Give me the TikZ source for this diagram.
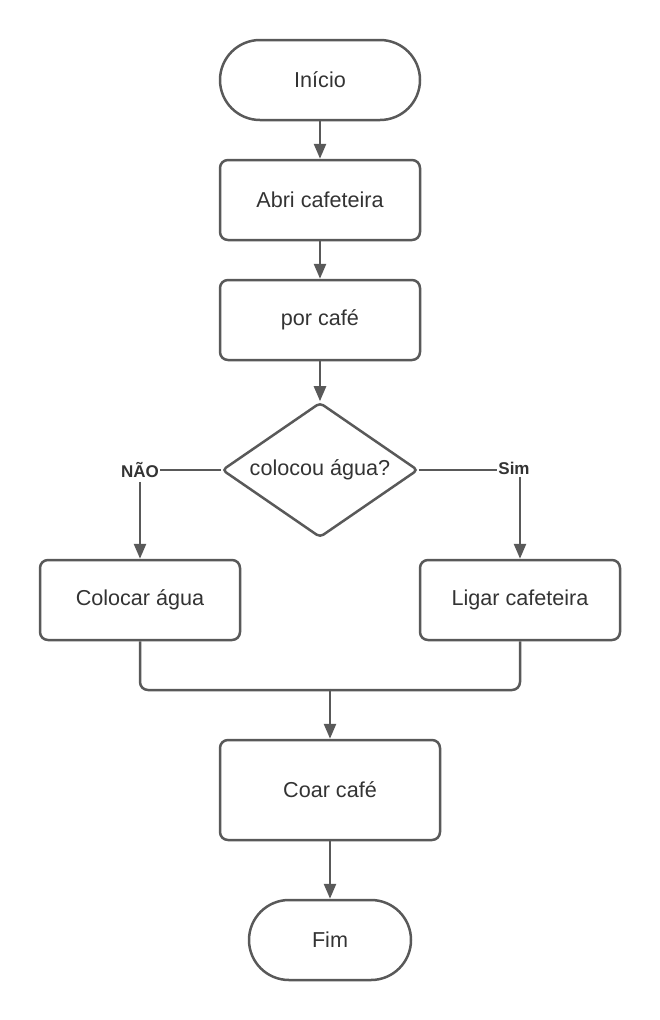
\documentclass[tikz,border=0pt]{standalone}
\usepackage{fontspec}
\setmainfont{Liberation Sans}
\usetikzlibrary{shapes.geometric,arrows.meta}
\definecolor{ln}{HTML}{595959}
\definecolor{tx}{HTML}{333333}
\begin{document}
\begin{tikzpicture}[x=1pt,y=-1pt,
  every node/.style={text=tx,font=\fontsize{21.6}{26}\selectfont},
  box/.style={draw=ln,line width=2.5pt,rounded corners=8pt,minimum width=200pt,minimum height=80pt,inner sep=0pt},
  term/.style={draw=ln,line width=2.5pt,rounded corners=40pt,minimum width=200pt,minimum height=80pt,inner sep=0pt},
  dec/.style={draw=ln,line width=2.5pt,diamond,aspect=1.45,minimum width=196pt,minimum height=135pt,inner sep=0pt,rounded corners=4pt},
  lbl/.style={font=\bfseries\fontsize{17}{20}\selectfont,inner sep=1pt},
  conn/.style={draw=ln,line width=2.5pt},
  arr/.style={conn,-{Triangle[length=15pt,width=12pt]}}
]
\useasboundingbox (0,0) rectangle (660,1020);
\node[term] (ini) at (320,80) {Início};
\node[box] (abri) at (320,200) {Abri cafeteira};
\node[box] (por) at (320,320) {por café};
\node[dec] (dec) at (320,470) {colocou água?};
\node[lbl] (nao) at (140,470) {NÃO};
\node[lbl] (sim) at (514,468) {Sim};
\node[box] (col) at (140,600) {Colocar água};
\node[box] (lig) at (520,600) {Ligar cafeteira};
\node[box,minimum width=220pt,minimum height=100pt] (coar) at (330,790) {Coar café};
\node[term,minimum width=162pt] (fim) at (330,940) {Fim};
\coordinate (j) at (330,690);
\draw[arr] (ini) -- (abri);
\draw[arr] (abri) -- (por);
\draw[arr] (por) -- (dec);
\draw[conn] (dec.west) -- (dec.west -| nao.east);
\draw[arr] (nao.south) ++(0,3) -- (col.north);
\draw[conn] (dec.east) -- (dec.east -| sim.west);
\draw[arr] (sim.south -| lig.north) ++(0,2) -- (lig.north);
\draw[conn,rounded corners=8pt] (col.south) |- (j);
\draw[conn,rounded corners=8pt] (lig.south) |- (j);
\draw[arr] (j) -- (coar.north);
\draw[arr] (coar) -- (fim);
\end{tikzpicture}
\end{document}
